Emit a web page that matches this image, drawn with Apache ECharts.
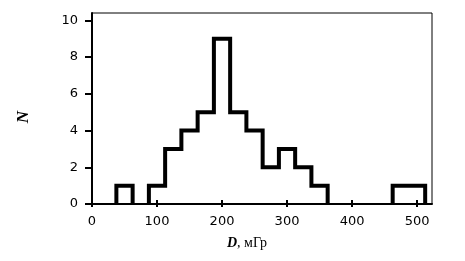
<!DOCTYPE html>
<html>
<head>
<meta charset="utf-8">
<script src="https://cdn.jsdelivr.net/npm/echarts@6/dist/echarts.min.js"></script>
<style>
  html, body { margin: 0; padding: 0; background: #fff; }
  #chart { width: 465px; height: 261px; }
</style>
</head>
<body>
<div id="chart"></div>
<script>
// Histogram bins (centre of each 25 mGy bin) and counts
const binCenters = [50, 75, 100, 125, 150, 175, 200, 225, 250, 275, 300, 325, 350, 375, 400, 425, 450, 475, 500];
const binCounts  = [ 1,  0,   1,   3,   4,   5,   9,   5,   4,   2,   3,   2,   1,   0,   0,   0,   0,   1,   1];
const binWidth = 25;
const xTicks = [0, 100, 200, 300, 400, 500];
const yTicks = [0, 2, 4, 6, 8, 10];

// Build the outline of the histogram (step line), broken where the count is zero
function histogramOutline() {
  const pts = [];
  let inRun = false;
  for (let i = 0; i < binCenters.length; i++) {
    const L = binCenters[i] - binWidth / 2;
    const R = binCenters[i] + binWidth / 2;
    const c = binCounts[i];
    if (c > 0) {
      if (!inRun) { pts.push([L, 0]); inRun = true; }
      pts.push([L, c]);
      pts.push([R, c]);
    } else if (inRun) {
      pts.push([L, 0]);
      pts.push(null);
      inRun = false;
    }
  }
  if (inRun) {
    const last = binCenters[binCenters.length - 1] + binWidth / 2;
    pts.push([last, 0]);
  }
  return pts;
}

const labelFont = 'DejaVu Sans';
const chart = echarts.init(document.getElementById('chart'), null, { renderer: 'canvas' });
chart.setOption({
  animation: false,
  backgroundColor: '#fff',
  grid: { left: 92, right: 33, top: 13, bottom: 57, show: true, borderColor: '#000', borderWidth: 1 },
  xAxis: [{
    type: 'value', min: 0, max: 523, interval: 100,
    axisLine: { show: true, lineStyle: { color: '#000', width: 2 } },
    axisTick: { show: true, inside: true, length: 4, customValues: xTicks, lineStyle: { color: '#000', width: 2 } },
    axisLabel: { customValues: xTicks, color: '#000', fontFamily: labelFont, fontSize: 13, margin: 11 },
    splitLine: { show: false },
    name: '{d|D}{r|, мГр}',
    nameLocation: 'middle',
    nameGap: 32,
    nameTextStyle: {
      padding: [0, 30, 0, 0],
      rich: {
        d: { fontFamily: 'Liberation Serif', fontStyle: 'italic', fontWeight: 'bold', fontSize: 14, color: '#000' },
        r: { fontFamily: 'Liberation Serif', fontSize: 14, color: '#000' }
      }
    }
  }, {
    type: 'value', min: 0, max: 523, interval: 100, position: 'bottom', gridIndex: 0,
    axisLine: { show: false },
    axisTick: { show: true, inside: false, length: 3, customValues: xTicks, lineStyle: { color: '#000', width: 2 } },
    axisLabel: { show: false },
    splitLine: { show: false }
  }],
  yAxis: {
    type: 'value', min: 0, max: 10.4, interval: 2,
    axisLine: { show: true, lineStyle: { color: '#000', width: 2 } },
    axisTick: { show: true, inside: false, length: 7, customValues: yTicks, lineStyle: { color: '#000', width: 2 } },
    axisLabel: { customValues: yTicks, color: '#000', fontFamily: labelFont, fontSize: 13, margin: 14 },
    splitLine: { show: false },
    name: 'N',
    nameLocation: 'middle',
    nameGap: 60,
    nameTextStyle: { fontFamily: 'Liberation Serif', fontStyle: 'italic', fontWeight: 'bold', fontSize: 17, color: '#000', padding: [0, 17, 0, 0] }
  },
  series: [{
    type: 'line',
    xAxisIndex: 0,
    data: histogramOutline(),
    showSymbol: false,
    connectNulls: false,
    clip: false,
    lineStyle: { color: '#000', width: 4, cap: 'butt', join: 'miter' }
  }]
});
</script>
</body>
</html>
